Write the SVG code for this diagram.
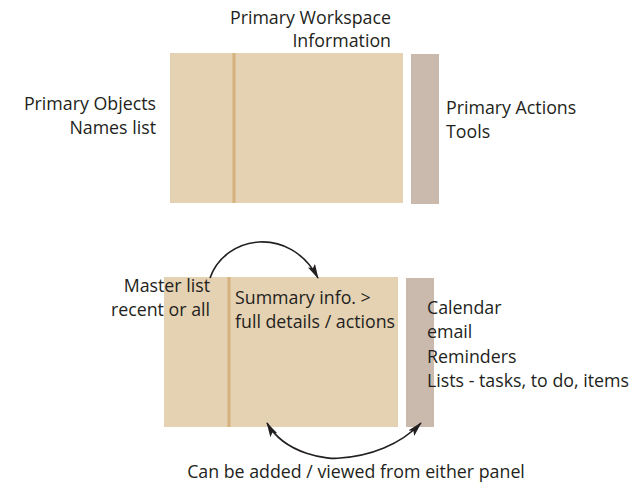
<svg xmlns="http://www.w3.org/2000/svg" width="635" height="489" viewBox="0 0 635 489">
  <style>
    .panel { fill: #E5D2B3; }
    .divider { fill: #D5B27D; }
    .side { fill: #C9BAAD; }
    text { font-family: "Open Sans", "Noto Sans", sans-serif; font-size: 17.8px; fill: #231F20; }
    .r { text-anchor: end; }
    .c { text-anchor: middle; }
    .arc { fill: none; stroke: #231F20; stroke-width: 1.6; }
  </style>
  <defs>
    <marker id="head" viewBox="0 0 15 8" refX="14" refY="4" markerWidth="15" markerHeight="8" markerUnits="userSpaceOnUse" orient="auto">
      <path d="M0,0 L15,4 L0,8 L3,4 Z" fill="#231F20"/>
    </marker>
    <marker id="tail" viewBox="0 0 15 8" refX="1" refY="4" markerWidth="15" markerHeight="8" markerUnits="userSpaceOnUse" orient="auto">
      <path d="M15,0 L0,4 L15,8 L12,4 Z" fill="#231F20"/>
    </marker>
  </defs>

  <!-- Upper layout -->
  <g id="top-workspace">
    <rect class="panel" x="170" y="53" width="233" height="150"/>
    <rect class="divider" x="232.5" y="53" width="3" height="150"/>
    <text class="r" x="391" y="24">Primary Workspace</text>
    <text class="r" x="391" y="47">Information</text>
  </g>
  <g id="top-objects">
    <text class="r" x="156" y="110">Primary Objects</text>
    <text class="r" x="156" y="134">Names list</text>
  </g>
  <g id="top-actions">
    <rect class="side" x="411" y="54" width="28" height="150"/>
    <text x="446" y="114">Primary Actions</text>
    <text x="446" y="138">Tools</text>
  </g>

  <!-- Lower layout -->
  <g id="bottom-workspace">
    <rect class="panel" x="164" y="277" width="234" height="150"/>
    <rect class="divider" x="227.5" y="277" width="3" height="150"/>
    <text x="235" y="304">Summary info. &gt;</text>
    <text x="235" y="328">full details / actions</text>
  </g>
  <g id="bottom-master">
    <text class="r" x="210" y="292">Master list</text>
    <text class="r" x="210" y="316">recent or all</text>
  </g>
  <g id="bottom-side">
    <rect class="side" x="406" y="278" width="28" height="149"/>
    <text x="427" y="314">Calendar</text>
    <text x="427" y="338">email</text>
    <text x="427" y="363">Reminders</text>
    <text x="427" y="387">Lists - tasks, to do, items</text>
  </g>
  <g id="footer">
    <text class="c" x="356" y="478">Can be added / viewed from either panel</text>
  </g>

  <g id="connectors">
    <path class="arc" d="M210,278 C225,235 290,225 318,278" marker-end="url(#head)"/>
    <path class="arc" d="M267,423 C285,455 330,460 340,458 C370,456 400,445 421,423" marker-start="url(#tail)" marker-end="url(#head)"/>
  </g>
</svg>
